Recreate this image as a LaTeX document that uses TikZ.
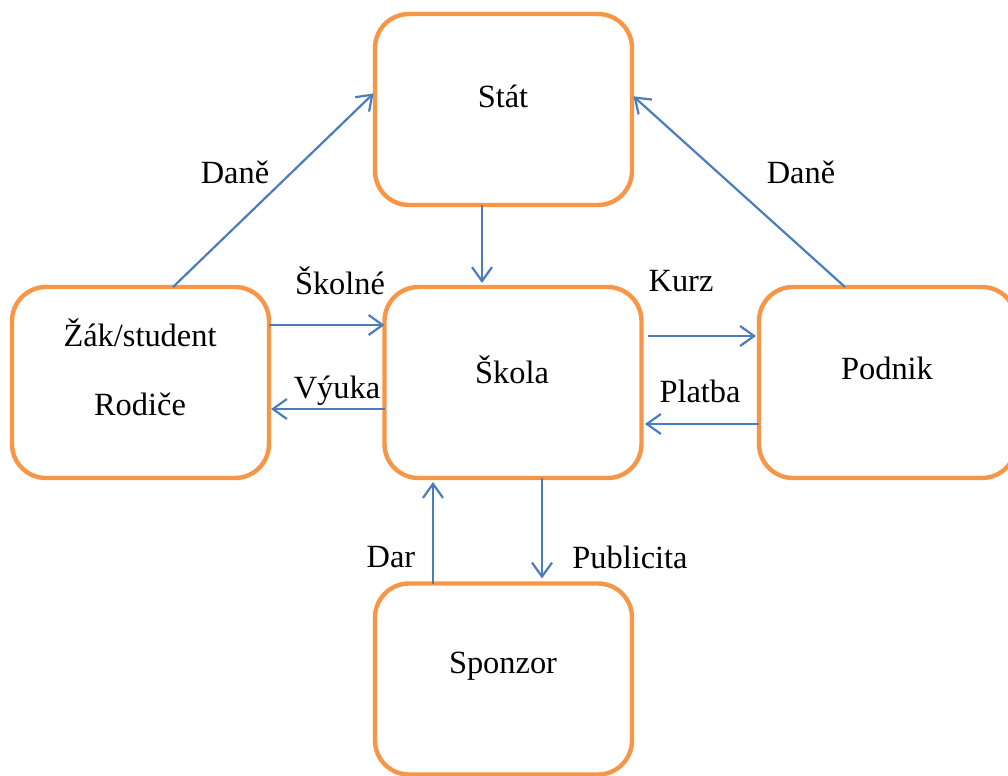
\documentclass[tikz,border=0pt]{standalone}
\usepackage{fontspec}
\setmainfont{Liberation Serif}
\usetikzlibrary{arrows.meta}
\definecolor{boxorange}{HTML}{F79646}
\definecolor{arrowblue}{HTML}{4A7EBB}
\tikzset{
  box/.style={draw=boxorange, line width=2.2pt, rounded corners=17pt, fill=white,
    minimum width=128.5pt, minimum height=95.5pt, inner sep=0pt, outer sep=0pt},
  txt/.style={font=\fontsize{16.2}{19}\selectfont, inner sep=0pt, anchor=center},
  conn/.style={draw=arrowblue, line width=1.1pt, -{Straight Barb[length=7pt,width=10pt,line width=1.1pt]}},
}
\begin{document}
\begin{tikzpicture}[x=0.5pt,y=-0.5pt]
\useasboundingbox (0,0) rectangle (1008,776);
\clip (0,0) rectangle (1008,776);
% boxes
\node[box] (stat) at (503.5,109.5) {};
\node[box] (zak) at (140.5,382.5) {};
\node[box] (skola) at (513,382.5) {};
\node[box] (podnik) at (887.5,382.5) {};
\node[box] (sponzor) at (503.5,679) {};
% box texts
\node[txt] (tstat) at (503,96) {Stát};
\node[txt] (tzak1) at (140,333) {Žák/student};
\node[txt] (tzak2) at (140,404) {Rodiče};
\node[txt] (tskola) at (512,370) {Škola};
\node[txt] (tpodnik) at (887,368) {Podnik};
\node[txt] (tsponzor) at (503,666) {Sponzor};
% connectors
\draw[conn, shorten >=1pt] (zak.north -| 173,0) -- (stat.west |- 0,92);
\draw[conn, shorten >=1pt] (podnik.north -| 845,0) -- (stat.east |- 0,95);
\draw[conn, shorten >=2pt] (stat.south -| 482,0) -- (skola.north -| 482,0);
\draw[conn] (zak.east |- 0,325) -- (skola.west |- 0,325);
\draw[conn, shorten >=1pt] (skola.west |- 0,409) -- (zak.east |- 0,409);
\draw[conn, shorten >=1.5pt] (648,336) -- (podnik.west |- 0,336);
\draw[conn] (podnik.west |- 0,424) -- (645,424);
\draw[conn] (sponzor.north -| 433,0) -- (433,482);
\draw[conn, shorten >=2.5pt] (skola.south -| 542,0) -- (sponzor.north -| 542,0);
% labels
\node[txt] (ldane1) at (235,172) {Daně};
\node[txt] (ldane2) at (801,172) {Daně};
\node[txt] (lskolne) at (340,281) {Školné};
\node[txt] (lvyuka) at (337,391) {Výuka};
\node[txt] (lkurz) at (681,281) {Kurz};
\node[txt] (lplatba) at (700,391) {Platba};
\node[txt] (ldar) at (391,557) {Dar};
\node[txt] (lpublicita) at (630,557) {Publicita};
\end{tikzpicture}
\end{document}
